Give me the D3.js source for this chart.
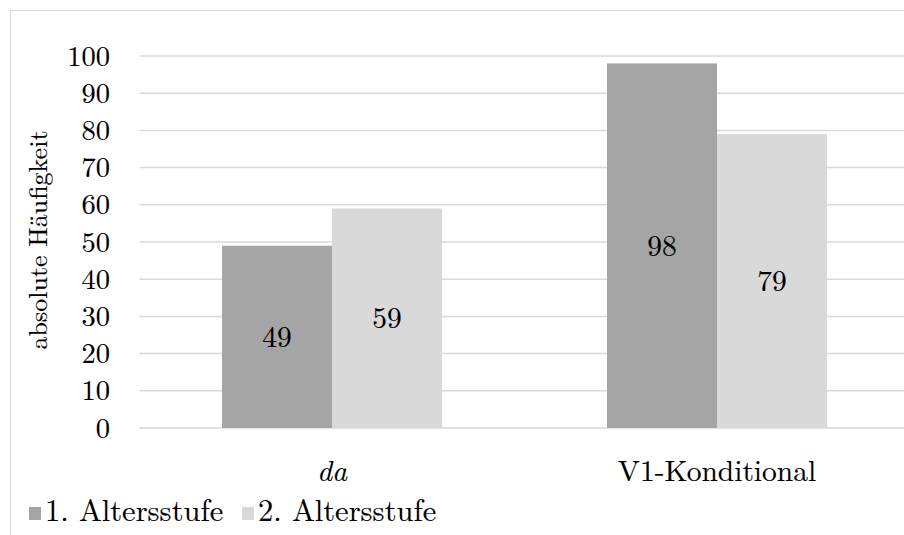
<!DOCTYPE html>
<html lang="de">
<head>
<meta charset="UTF-8">
<title>absolute Häufigkeit</title>
<script src="https://d3js.org/d3.v7.min.js"></script>
<style>
  body { margin: 0; padding: 0; background: #fff; }
  svg { display: block; }
</style>
</head>
<body>
<svg id="chart"></svg>
<script>
  // data
  const categories = ["da", "V1-Konditional"];
  const series = ["1. Altersstufe", "2. Altersstufe"];
  const stufe1 = [49, 98];
  const stufe2 = [59, 79];
  const yTicks = [0, 10, 20, 30, 40, 50, 60, 70, 80, 90, 100];
  const colors = ["#a5a5a5", "#d9d9d9"];

  const W = 904, H = 535;
  const plot = { left: 139.5, right: 909.5, top: 56, bottom: 428 };
  const FONT = '"Latin Modern Roman", "Liberation Serif", serif';

  const svg = d3.select("#chart").attr("width", W).attr("height", H);

  // helper so every label gets the serif font (hairline stroke = a touch darker, like the original)
  function label(sel, size) {
    return sel.style("font-family", FONT).style("font-size", size + "px")
      .attr("fill", "#000").attr("stroke", "#000").attr("stroke-width", 0.12);
  }

  // chart frame (runs off the right/bottom edge as in the original)
  svg.append("rect")
    .attr("x", 10.5).attr("y", 10.5)
    .attr("width", W + 20).attr("height", H + 20)
    .attr("fill", "#fff")
    .attr("stroke", "#d9d9d9")
    .attr("stroke-width", 1);

  const x0 = d3.scaleBand()
    .domain(categories)
    .range([plot.left, plot.right])
    .paddingInner(0.4286)
    .paddingOuter(0.2143);

  const x1 = d3.scaleBand()
    .domain(series)
    .range([0, x0.bandwidth()])
    .padding(0);

  const y = d3.scaleLinear().domain([0, 100]).range([plot.bottom, plot.top]);

  // gridlines
  svg.append("g")
    .selectAll("line")
    .data(yTicks)
    .enter().append("line")
    .attr("x1", plot.left).attr("x2", W)
    .attr("y1", d => y(d)).attr("y2", d => y(d))
    .attr("stroke", "#d9d9d9")
    .attr("stroke-width", 1.5);

  // y tick labels
  svg.append("g")
    .selectAll("text")
    .data(yTicks)
    .enter().append("text")
    .attr("x", 110)
    .attr("y", d => y(d))
    .attr("dy", "0.34em")
    .attr("text-anchor", "end")
    .call(label, 28.5)
    .text(d => d);

  // y axis title
  svg.append("text")
    .attr("transform", "translate(47,240) rotate(-90)")
    .attr("text-anchor", "middle")
    .call(label, 26)
    .text("absolute Häufigkeit");

  const rows = categories.map((c, i) => ({
    cat: c,
    vals: [
      { s: series[0], v: stufe1[i], c: colors[0] },
      { s: series[1], v: stufe2[i], c: colors[1] }
    ]
  }));

  const groups = svg.append("g")
    .selectAll("g")
    .data(rows)
    .enter().append("g")
    .attr("transform", d => `translate(${x0(d.cat)},0)`);

  groups.selectAll("rect")
    .data(d => d.vals)
    .enter().append("rect")
    .attr("x", d => x1(d.s))
    .attr("y", d => y(d.v))
    .attr("width", x1.bandwidth())
    .attr("height", d => y(0) - y(d.v))
    .attr("fill", d => d.c);

  groups.selectAll("text")
    .data(d => d.vals)
    .enter().append("text")
    .attr("x", d => x1(d.s) + x1.bandwidth() / 2)
    .attr("y", d => (y(0) + y(d.v)) / 2)
    .attr("dy", "0.34em")
    .attr("text-anchor", "middle")
    .call(label, 29.5)
    .text(d => d.v);

  // category labels
  svg.append("g")
    .selectAll("text")
    .data(categories)
    .enter().append("text")
    .attr("x", d => x0(d) + x0.bandwidth() / 2)
    .attr("y", 481)
    .attr("text-anchor", "middle")
    .call(label, 29.5)
    .style("font-style", (d, i) => i === 0 ? "italic" : "normal")
    .text(d => d);

  // legend
  const legendX = [29, 242];
  const legend = svg.append("g")
    .selectAll("g")
    .data(series)
    .enter().append("g")
    .attr("transform", (d, i) => `translate(${legendX[i]},0)`);

  legend.append("rect")
    .attr("x", 0).attr("y", 507)
    .attr("width", 12).attr("height", 13)
    .attr("fill", (d, i) => colors[i]);

  legend.append("text")
    .attr("x", 16).attr("y", 521)
    .call(label, 30.5)
    .text(d => d);
</script>
</body>
</html>
